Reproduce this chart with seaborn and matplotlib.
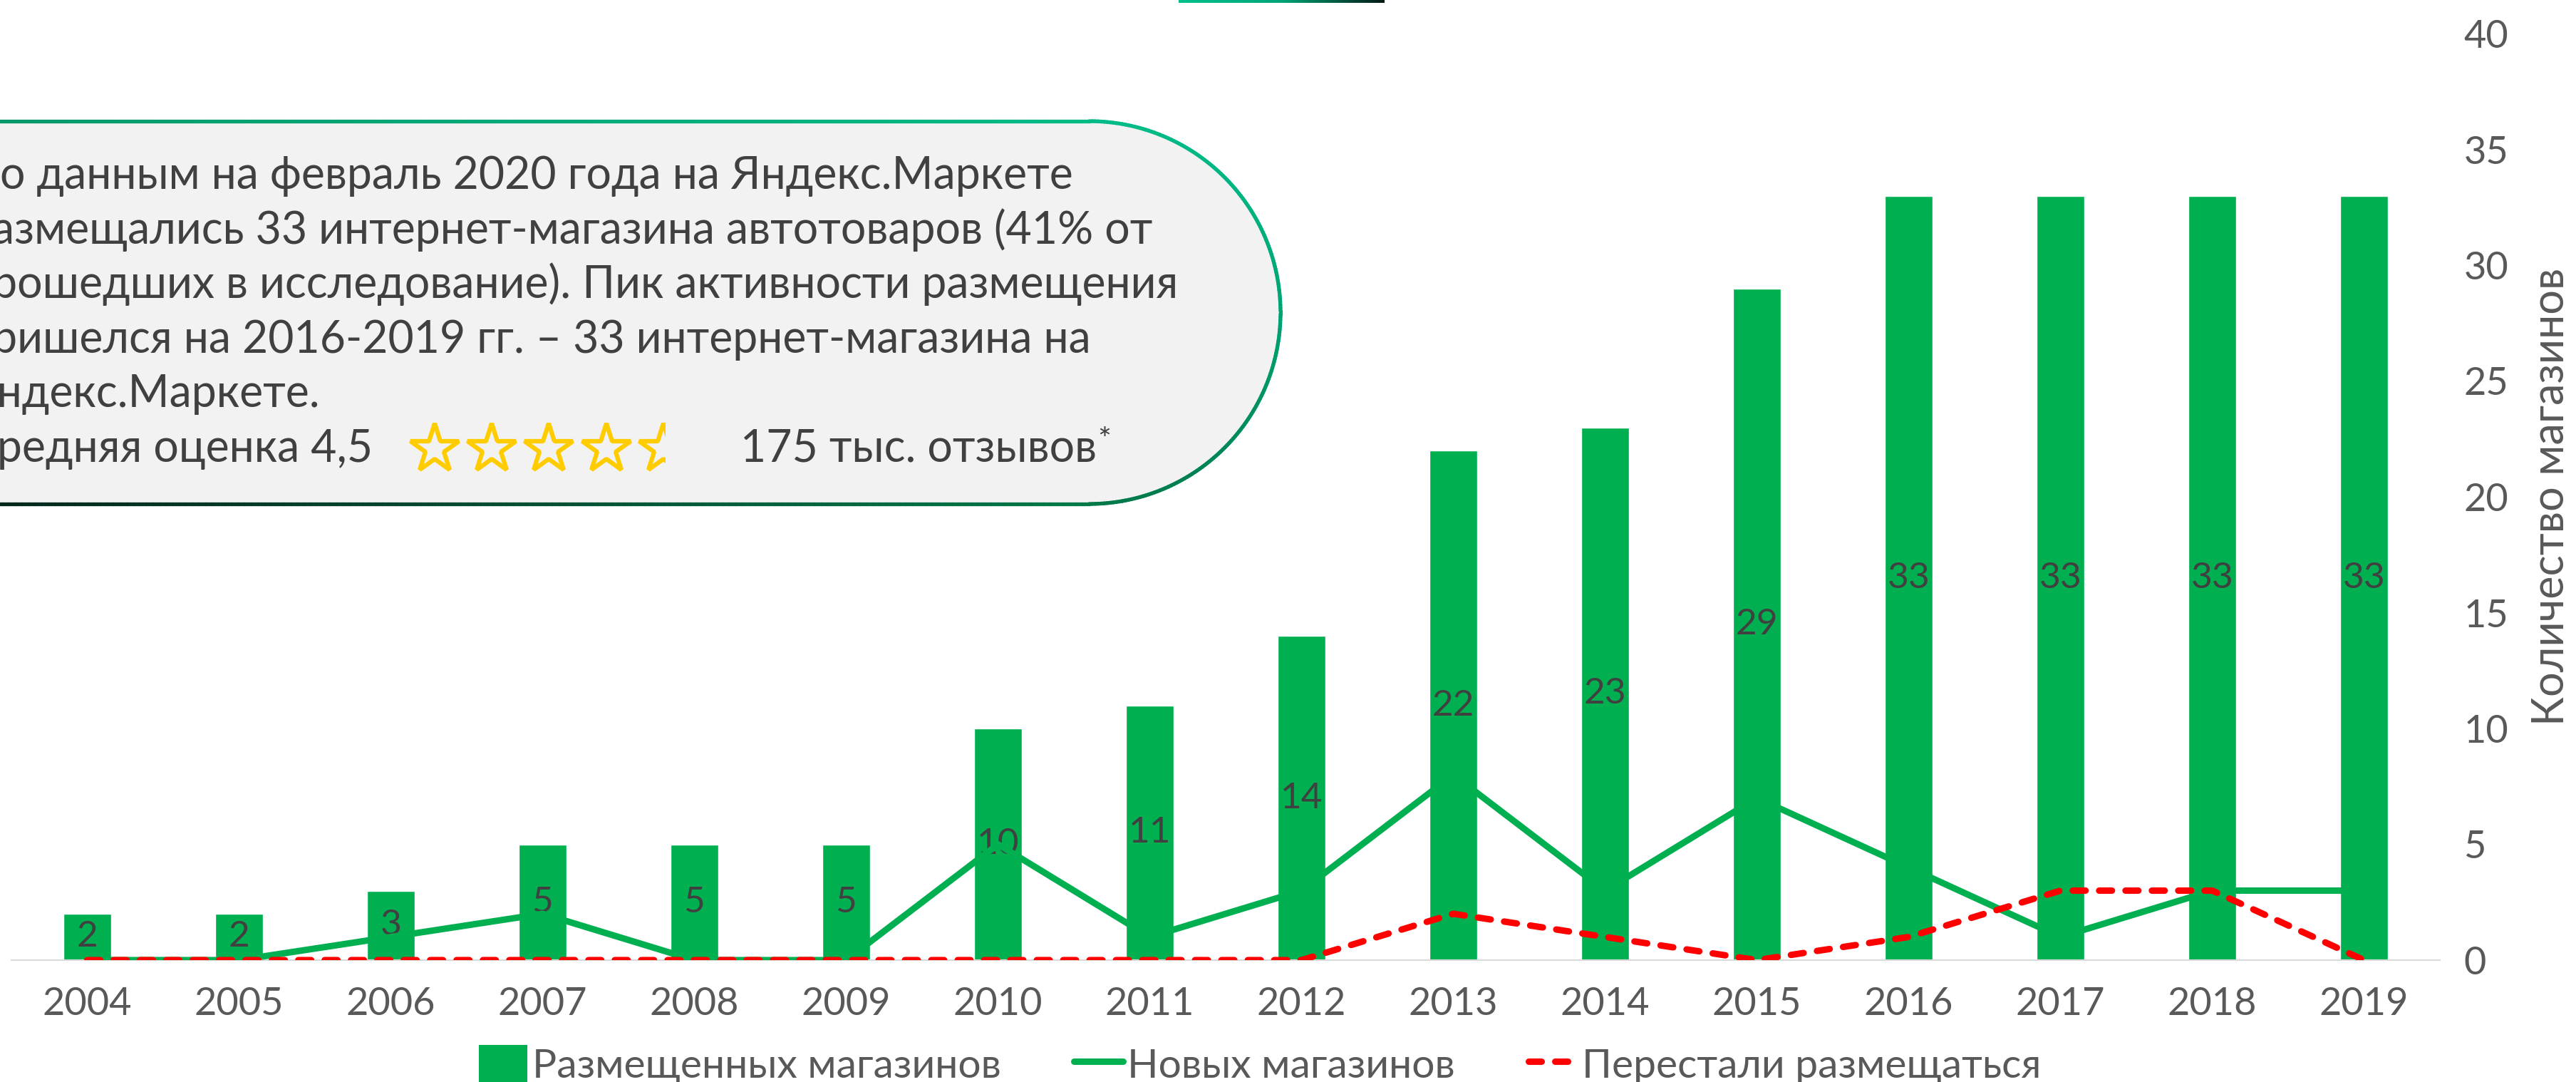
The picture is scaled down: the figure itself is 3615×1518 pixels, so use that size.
import numpy as np
import matplotlib
matplotlib.use("Agg")
import matplotlib.pyplot as plt
import seaborn as sns
from matplotlib.collections import LineCollection
from matplotlib.colors import LinearSegmentedColormap
from matplotlib.lines import Line2D
from matplotlib.patches import Patch, Rectangle

# data
years = ["2004", "2005", "2006", "2007", "2008", "2009", "2010", "2011",
         "2012", "2013", "2014", "2015", "2016", "2017", "2018", "2019"]
placed = [2, 2, 3, 5, 5, 5, 10, 11, 14, 22, 23, 29, 33, 33, 33, 33]
new_shops = [0, 0, 1, 2, 0, 0, 5, 1, 3, 8, 3, 7, 4, 1, 3, 3]
stopped = [0, 0, 0, 0, 0, 0, 0, 0, 0, 2, 1, 0, 1, 3, 3, 0]

legend_labels = ["Размещенных магазинов", "Новых магазинов", "Перестали размещаться"]
y_title = "Количество магазинов"
note_lines = [
    "По данным на февраль 2020 года на Яндекс.Маркете",
    "размещались 33 интернет-магазина автотоваров (41% от",
    "прошедших в исследование). Пик активности размещения",
    "пришелся на 2016-2019 гг. – 33 интернет-магазина на",
    "Яндекс.Маркете.",
]
rating_text = "Средняя оценка 4,5"
reviews_text = "175 тыс. отзывов"

GREEN = "#00B050"
RED = "#FF0000"
GREY = "#595959"
DARK = "#404040"
W, H = 3615, 1518

sns.set_style("white")
plt.rcParams["font.family"] = ["Lato", "DejaVu Sans"]

fig = plt.figure(figsize=(W / 100, H / 100), dpi=100)
ax = fig.add_axes([16 / W, (H - 1347) / H, 3408 / W, 1300 / H])

sns.barplot(x=years, y=placed, color=GREEN, saturation=1, width=0.31, ax=ax, zorder=2)
ax.bar_label(ax.containers[0], label_type="center", fontsize=37, color=DARK)

pos = np.arange(len(years))
sns.lineplot(x=pos, y=new_shops, color=GREEN, linewidth=6.5, ax=ax,
             solid_joinstyle="round", zorder=3)
sns.lineplot(x=pos, y=stopped, color=RED, linewidth=6.5, ax=ax,
             linestyle=(0, (2.0, 2.1)), dash_capstyle="round", zorder=4)

ax.set_xlim(-0.5, len(years) - 0.5)
ax.set_ylim(0, 40)
ax.set_xticks(pos)
ax.set_xticklabels(years)
ax.set_xticks(np.arange(-0.5, len(years), 1), minor=True)
ax.tick_params(axis="x", which="major", length=0, pad=27, labelsize=39, labelcolor=GREY)
ax.tick_params(axis="x", which="minor", length=11.5, width=1.5, color="#d9d9d9")
ax.yaxis.tick_right()
ax.set_yticks(range(0, 41, 5))
ax.tick_params(axis="y", length=0, pad=24, labelsize=39, labelcolor=GREY)
ax.set_xlabel("")
ax.set_ylabel("")
for s in ["top", "left", "right"]:
    ax.spines[s].set_visible(False)
ax.spines["bottom"].set_color("#d9d9d9")
ax.spines["bottom"].set_linewidth(1.5)

# overlay in pixel coordinates for the note box and decorations
ov = fig.add_axes([0, 0, 1, 1], zorder=5)
ov.set_facecolor("none")
ov.axis("off")

grad = np.linspace(0, 1, 256).reshape(1, -1)
top_cmap = LinearSegmentedColormap.from_list("top", ["#00c08b", "#00a577", "#001a14"])
ov.imshow(grad, cmap=top_cmap, extent=[1654, 1943, 4, 0], aspect="auto")

# stadium shaped note box
y0, y1 = 170, 707
r = (y1 - y0) / 2
cx, cy = 1797 - r, (y0 + y1) / 2
th = np.linspace(0, np.pi, 200)
xs = np.concatenate([np.linspace(-300, cx, 200), cx + r * np.sin(th), np.linspace(cx, -300, 200)])
ys = np.concatenate([np.full(200, y0), cy - r * np.cos(th), np.full(200, y1)])
ov.fill(xs, ys, color="#f2f2f2", zorder=1)
pts = np.column_stack([xs, ys])
segs = np.stack([pts[:-1], pts[1:]], axis=1)
mx = (pts[:-1, 0] + pts[1:, 0]) / 2
my = (pts[:-1, 1] + pts[1:, 1]) / 2
t = np.clip((my - y0) / (y1 - y0) * 0.6 + (1800 - mx) / 1800 * 0.4, 0, 1)
border_cmap = LinearSegmentedColormap.from_list("brd", ["#00c08b", "#00a070", "#007848", "#00281c"])
ov.add_collection(LineCollection(segs, colors=border_cmap(t), linewidths=3.8, zorder=2,
                                 capstyle="round"))

x0 = -46
note_kw = dict(fontsize=45, color=DARK, va="baseline", zorder=3)
for i, line in enumerate(note_lines):
    ov.text(x0, 265 + 76.6 * i, line, **note_kw)
ov.text(x0, 265 + 76.6 * 5, rating_text, **note_kw)
rev = ov.text(1039, 265 + 76.6 * 5, reviews_text, **note_kw)
ov.annotate("*", xy=(1, 1), xycoords=rev, xytext=(1, 2), textcoords="offset points",
            fontsize=32, color=DARK, ha="left", va="top", zorder=3)

star_x = [610, 690, 770, 851, 931]
stars = ov.plot(star_x, [630] * 5, linestyle="none", marker="*", markersize=52,
                markerfacecolor="none", markeredgecolor="#FFCC00", markeredgewidth=4.5,
                zorder=3)[0]
stars.set_clip_path(Rectangle((0, 0), 933, H, transform=ov.transData))

ov.text(3580, 697, y_title, rotation=90, ha="center", va="center", fontsize=44, color=GREY)

ov.set_xlim(0, W)
ov.set_ylim(H, 0)

handles = [
    Patch(facecolor=GREEN, edgecolor="none"),
    Line2D([], [], color=GREEN, linewidth=6.5),
    Line2D([], [], color=RED, linewidth=6.5, linestyle=(0, (2.0, 2.1)), dash_capstyle="round"),
]
fig.legend(handles, legend_labels, loc="center", bbox_to_anchor=(1768 / W, (H - 1494) / H),
           ncol=3, frameon=False, fontsize=41, labelcolor=GREY, handlelength=1.2,
           handleheight=1.1, handletextpad=0.12, columnspacing=1.8, borderpad=0)

fig.savefig("out.png", dpi=100)
